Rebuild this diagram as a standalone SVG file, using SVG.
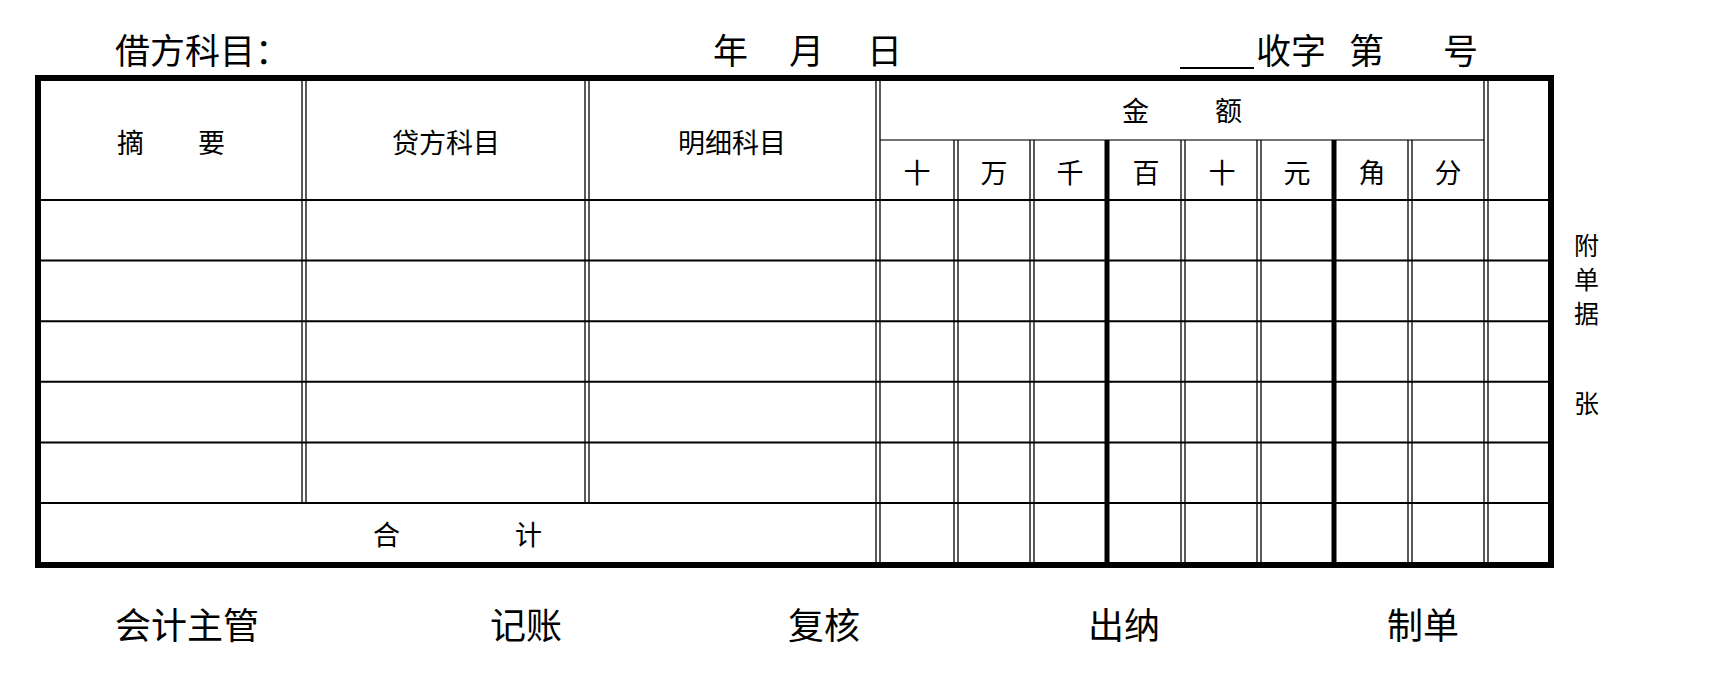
<svg xmlns="http://www.w3.org/2000/svg" width="1736" height="695" viewBox="0 0 1736 695">
<style>
text{font-family:"Noto Sans CJK SC","Noto Sans CJK JP",sans-serif;fill:#000}
.big{font-size:35px}
.ft{font-size:36px}
.h{font-size:27px;text-anchor:middle}
.s{font-size:27px}
.v{font-size:25px}
.dbl line{stroke:#000;stroke-width:1.3}
.thin{stroke:#000;stroke-width:2}
.thick{stroke:#000;stroke-width:5}
.hl{stroke:#444;stroke-width:1.5}
</style>
<rect width="1736" height="695" fill="#fff"/>
<g id="title">
<text class="big" x="115" y="64">借方科目：</text>
<text class="big" x="713" y="64">年</text>
<text class="big" x="789" y="64">月</text>
<text class="big" x="867" y="64">日</text>
<line x1="1180" y1="68" x2="1254" y2="68" stroke="#000" stroke-width="2"/>
<text class="big" x="1256" y="64">收字</text>
<text class="big" x="1349" y="64">第</text>
<text class="big" x="1443" y="64">号</text>
</g>
<g id="grid">
<g class="rows">
<line class="thin" x1="38" y1="200" x2="1551" y2="200"/>
<line class="thin" x1="38" y1="260.6" x2="1551" y2="260.6"/>
<line class="thin" x1="38" y1="321.2" x2="1551" y2="321.2"/>
<line class="thin" x1="38" y1="381.8" x2="1551" y2="381.8"/>
<line class="thin" x1="38" y1="442.4" x2="1551" y2="442.4"/>
<line class="thin" x1="38" y1="503" x2="1551" y2="503"/>
<line class="hl" x1="880" y1="140" x2="1484" y2="140"/>
</g>
<g class="dbl">
<line x1="302" y1="78" x2="302" y2="503"/><line x1="306" y1="78" x2="306" y2="503"/>
<line x1="585" y1="78" x2="585" y2="503"/><line x1="589" y1="78" x2="589" y2="503"/>
<line x1="876" y1="78" x2="876" y2="565"/><line x1="880" y1="78" x2="880" y2="565"/>
<line x1="954" y1="140" x2="954" y2="565"/><line x1="958" y1="140" x2="958" y2="565"/>
<line x1="1030" y1="140" x2="1030" y2="565"/><line x1="1034" y1="140" x2="1034" y2="565"/>
<line x1="1181" y1="140" x2="1181" y2="565"/><line x1="1185" y1="140" x2="1185" y2="565"/>
<line x1="1257" y1="140" x2="1257" y2="565"/><line x1="1261" y1="140" x2="1261" y2="565"/>
<line x1="1408" y1="140" x2="1408" y2="565"/><line x1="1412" y1="140" x2="1412" y2="565"/>
<line x1="1484" y1="78" x2="1484" y2="565"/><line x1="1488" y1="78" x2="1488" y2="565"/>
</g>
<line class="thick" x1="1107" y1="140" x2="1107" y2="565"/>
<line class="thick" x1="1334" y1="140" x2="1334" y2="565"/>
<rect x="38" y="78" width="1513" height="487" fill="none" stroke="#000" stroke-width="6"/>
</g>
<g id="headers">
<text class="h" x="171" y="153">摘　　要</text>
<text class="h" x="446" y="153">贷方科目</text>
<text class="h" x="732" y="153">明细科目</text>
<text class="s" x="1122" y="121">金</text>
<text class="s" x="1215" y="121">额</text>
<text class="h" x="917" y="183">十</text>
<text class="h" x="994" y="183">万</text>
<text class="h" x="1070" y="183">千</text>
<text class="h" x="1146" y="183">百</text>
<text class="h" x="1222" y="183">十</text>
<text class="h" x="1297" y="183">元</text>
<text class="h" x="1372" y="183">角</text>
<text class="h" x="1448" y="183">分</text>
<text class="s" x="373" y="545">合</text>
<text class="s" x="515" y="545">计</text>
</g>
<g id="side">
<text class="v" x="1574" y="255">附</text>
<text class="v" x="1574" y="289">单</text>
<text class="v" x="1574" y="323">据</text>
<text class="v" x="1574" y="413">张</text>
</g>
<g id="footer">
<text class="ft" x="115" y="639">会计主管</text>
<text class="ft" x="490" y="639">记账</text>
<text class="ft" x="788" y="639">复核</text>
<text class="ft" x="1088" y="639">出纳</text>
<text class="ft" x="1387" y="639">制单</text>
</g>
</svg>
